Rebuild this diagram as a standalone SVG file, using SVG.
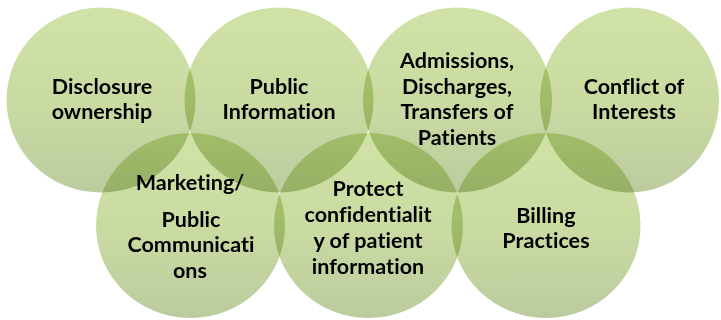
<svg xmlns="http://www.w3.org/2000/svg" width="721" height="320" viewBox="0 0 721 320">
  <style>
    .c { fill: url(#g); mix-blend-mode: multiply; }
    .t { font-family: Lato, "Liberation Sans", sans-serif; font-weight: bold; font-size: 21.5px; fill: #000000; text-anchor: middle; font-variant-ligatures: none; font-feature-settings: "liga" 0, "clig" 0, "dlig" 0; letter-spacing: 0.05px; }
  </style>
  <defs>
    <linearGradient id="g" x1="0" y1="0" x2="0" y2="1">
      <stop offset="0" stop-color="#d0e2a6"/>
      <stop offset="0.5" stop-color="#cadba2"/>
      <stop offset="1" stop-color="#bccb9e"/>
    </linearGradient>
  </defs>
  <rect width="721" height="320" fill="#ffffff"/>
  <g id="connectors"></g>
  <g id="n1">
    <ellipse class="c" cx="101" cy="100" rx="94.5" ry="92.5"/>
    <text class="t" x="102" y="94">Disclosure</text>
    <text class="t" x="102" y="119">ownership</text>
  </g>
  <g id="n2">
    <ellipse class="c" cx="279" cy="100" rx="94.5" ry="92.5"/>
    <text class="t" x="279" y="94">Public</text>
    <text class="t" x="279" y="119">Information</text>
  </g>
  <g id="n3">
    <ellipse class="c" cx="457.5" cy="100" rx="94.5" ry="92.5"/>
    <text class="t" x="457" y="68">Admissions,</text>
    <text class="t" x="457" y="93.5">Discharges,</text>
    <text class="t" x="457" y="119">Transfers of</text>
    <text class="t" x="457" y="145">Patients</text>
  </g>
  <g id="n4">
    <ellipse class="c" cx="629.5" cy="100" rx="89.5" ry="92.5"/>
    <text class="t" x="634" y="94">Conflict of</text>
    <text class="t" x="634" y="119">Interests</text>
  </g>
  <g id="n5">
    <ellipse class="c" cx="190.5" cy="225.5" rx="94.5" ry="92.5"/>
    <text class="t" x="190" y="189.5">Marketing/</text>
    <text class="t" x="191" y="226.5">Public</text>
    <text class="t" x="191" y="252">Communicati</text>
    <text class="t" x="190" y="278">ons</text>
  </g>
  <g id="n6">
    <ellipse class="c" cx="368.5" cy="225.5" rx="94.5" ry="92.5"/>
    <text class="t" x="368" y="195.5">Protect</text>
    <text class="t" x="368" y="221.5">confidentialit</text>
    <text class="t" x="368" y="247.5">y of patient</text>
    <text class="t" x="368" y="273.5">information</text>
  </g>
  <g id="n7">
    <ellipse class="c" cx="546" cy="225.5" rx="94.5" ry="92.5"/>
    <text class="t" x="546" y="223">Billing</text>
    <text class="t" x="546" y="247.5">Practices</text>
  </g>
</svg>
